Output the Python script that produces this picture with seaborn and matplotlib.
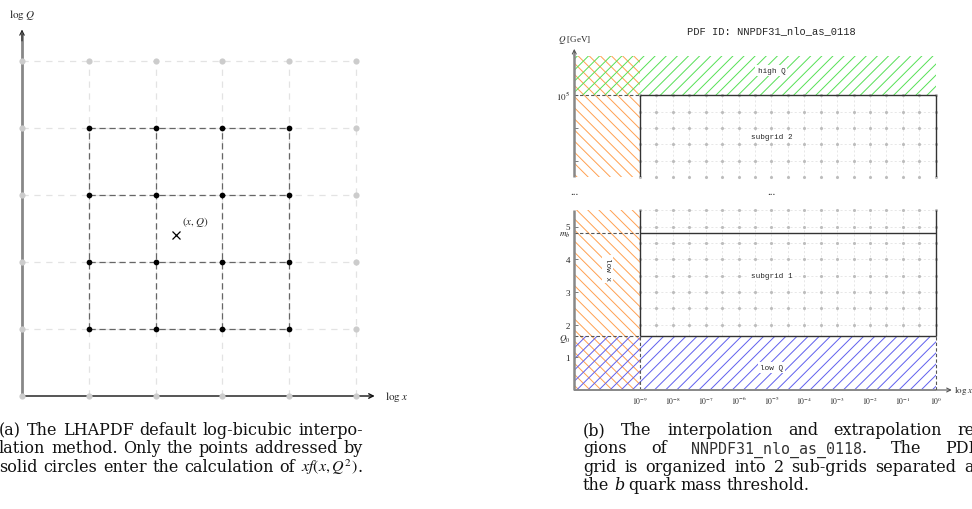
import numpy as np
import pandas as pd
import matplotlib
matplotlib.use("Agg")
import matplotlib.pyplot as plt
from matplotlib.patches import Rectangle
import seaborn as sns

# ---------------- data: panel (a) log-bicubic stencil ----------------
grid_x = [0, 1, 2, 3, 4, 5]          # log x knots (grid units)
grid_q = [0, 1, 2, 3, 4, 5]          # log Q knots (grid units)
stencil_x = [1, 2, 3, 4]             # knots entering the interpolation
stencil_q = [1, 2, 3, 4]
query_x, query_q = 2.3, 2.4          # interpolation point (x, Q)

# ---------------- data: panel (b) NNPDF31_nlo_as_0118 grid ----------------
x_decades = [-9, -8, -7, -6, -5, -4, -3, -2, -1, 0]       # log10 x tick positions
x_knots = [-9.0, -8.5, -8.0, -7.5, -7.0, -6.5, -6.0, -5.5, -5.0, -4.5,
           -4.0, -3.5, -3.0, -2.5, -2.0, -1.5, -1.0, -0.5, 0.0]
q_knots_sub1 = [2.0, 2.5, 3.0, 3.5, 4.0, 4.5, 5.0, 5.5]    # GeV
q_knots_sub2_exp = [2.5, 3.0, 3.5, 4.0, 4.5, 5.0]          # log10(Q/GeV)
q_ticks_low = [1, 2, 3, 4, 5]
Q0 = 1.65
mb = 4.8
Qmax = 1e5
x_lowedge = -11.0
x_min, x_max = -9.0, 0.0
q_top_sub1 = 5.5
q_bottom_sub2 = 10 ** 2.5
q_top_highQ = 10 ** 6.2

W, H, DPI = 972, 510, 100
sns.set_theme(style="white")
plt.rcParams["font.family"] = ["Liberation Serif", "DejaVu Serif"]
plt.rcParams["mathtext.fontset"] = "stix"
plt.rcParams["hatch.linewidth"] = 0.7

fig = plt.figure(figsize=(W / DPI, H / DPI), dpi=DPI)
fig.patch.set_facecolor("white")


def add_axes_px(xd, xp, yd, yp, xlim, ylim, ylog=False):
    f = np.log10 if ylog else (lambda v: v)
    sx = (xp[1] - xp[0]) / (xd[1] - xd[0])
    sy = (yp[1] - yp[0]) / (f(yd[1]) - f(yd[0]))
    left = xp[0] + (xlim[0] - xd[0]) * sx
    right = xp[0] + (xlim[1] - xd[0]) * sx
    bottom = yp[0] + (f(ylim[0]) - f(yd[0])) * sy
    top = yp[0] + (f(ylim[1]) - f(yd[0])) * sy
    ax = fig.add_axes([left / W, 1 - bottom / H, (right - left) / W, (bottom - top) / H])
    ax.set_facecolor("none")
    ax.set_xlim(xlim)
    if ylog:
        ax.set_yscale("log")
    ax.set_ylim(ylim)
    for s in ax.spines.values():
        s.set_visible(False)
    return ax


# ======================= panel (a) =======================
axa = add_axes_px((0, 5), (22, 356), (0, 5), (397, 62), (-0.3, 5.8), (-0.2, 5.9))
axa.set_xticks([]); axa.set_yticks([])

light = dict(color="#e3e3e3", lw=0.9, linestyles=(0, (5, 4.5)), zorder=1)
dark = dict(color="#666666", lw=0.9, linestyles=(0, (5, 3)), zorder=2)
axa.hlines(grid_q[1:], grid_x[0], grid_x[-1], **light)
axa.vlines(grid_x[1:], grid_q[0], grid_q[-1], **light)
axa.hlines(stencil_q, stencil_x[0], stencil_x[-1], **dark)
axa.vlines(stencil_x, stencil_q[0], stencil_q[-1], **dark)

axa.plot([0, 0], [0, 5.42], color="#888888", lw=2, solid_capstyle="butt", zorder=3)
axa.annotate("", xy=(0, 5.47), xytext=(0, 5.3),
             arrowprops=dict(arrowstyle="->", color="#222222", lw=0.8, shrinkA=0, shrinkB=0,
                             mutation_scale=8), zorder=4)
axa.annotate("", xy=(5.28, 0), xytext=(0, 0),
             arrowprops=dict(arrowstyle="->", color="#111111", lw=1.0, shrinkA=0, shrinkB=0,
                             mutation_scale=8), zorder=3)

pts = pd.DataFrame([(x, q) for x in grid_x for q in grid_q], columns=["x", "q"])
pts["used"] = pts["x"].isin(stencil_x) & pts["q"].isin(stencil_q)
sns.scatterplot(data=pts[~pts["used"]], x="x", y="q", color="#cccccc", s=20,
                linewidth=0, ax=axa, zorder=5, clip_on=False)
sns.scatterplot(data=pts[pts["used"]], x="x", y="q", color="black", s=17,
                linewidth=0, ax=axa, zorder=6, clip_on=False)
axa.plot([query_x], [query_q], marker="x", color="black", ms=6, mew=0.9, ls="none", zorder=7)
axa.text(query_x + 0.1, query_q + 0.1, r"$(x,Q)$", fontsize=8, ha="left", va="bottom")
axa.text(0, 5.7, r"$\log\,Q$", fontsize=8, ha="center", va="center")
axa.text(5.43, 0, r"$\log\,x$", fontsize=8, ha="left", va="center")
axa.set_xlabel(""); axa.set_ylabel("")

# ======================= panel (b) =======================
orange, green, blue = "#ffa050", "#55e055", "#5f5fee"
grey_dash = dict(color="#e3e3e3", lw=0.6, linestyles=(0, (2.5, 2.5)), zorder=1)
box = dict(color="#333333", lw=1.0, zorder=4)
thr = dict(color="#555555", lw=0.8, linestyles=(0, (3, 2)), zorder=4)

# ---- lower part: subgrid 1, low Q ----
axl = add_axes_px((-9, 0), (640, 935.7), (0, 5), (391, 227.5), (x_lowedge, 0.9), (0, 5.5))
axl.hlines(q_knots_sub1, x_min, x_max, **grey_dash)
axl.vlines(x_knots, Q0, q_top_sub1, **grey_dash)
d1 = pd.DataFrame([(x, q) for x in x_knots for q in q_knots_sub1], columns=["lx", "Q"])
sns.scatterplot(data=d1, x="lx", y="Q", color="#bdbdbd", s=5, linewidth=0, ax=axl, zorder=2,
                clip_on=False)
axl.add_patch(Rectangle((x_lowedge, 0), x_min - x_lowedge, q_top_sub1, facecolor="none",
                        edgecolor=orange, lw=0, hatch="\\\\\\", zorder=0))
axl.add_patch(Rectangle((x_lowedge, 0), x_max - x_lowedge, Q0, facecolor="none",
                        edgecolor=blue, lw=0, hatch="///", zorder=0))
axl.hlines([Q0, mb], x_min, x_max, **box)
axl.vlines([x_min, x_max], Q0, q_top_sub1, **box)
axl.hlines([Q0, mb], x_lowedge, x_min, **thr)
axl.vlines([x_min, x_max], 0, Q0, **thr)
axl.plot([x_lowedge, x_lowedge], [0, q_top_sub1], color="#888888", lw=1.8,
         solid_capstyle="butt", zorder=5, clip_on=False)
axl.plot([x_lowedge, x_max], [0, 0], color="#888888", lw=1.4, solid_capstyle="butt",
         zorder=5, clip_on=False)
axl.annotate("", xy=(0.49, 0), xytext=(x_max, 0),
             arrowprops=dict(arrowstyle="->", color="#555555", lw=0.8, shrinkA=0, shrinkB=0,
                             mutation_scale=7), annotation_clip=False)
axl.text(0.55, 0, r"$\log\,x$", fontsize=6.5, ha="left", va="center")

lab = dict(family=["Liberation Mono", "DejaVu Sans Mono"], fontsize=5.5, ha="center",
           va="center", zorder=6)
wbox = dict(facecolor="white", edgecolor="none", pad=1.5)
axl.text(-5, 3.5, "subgrid 1", bbox=wbox, **lab)
axl.text(-5, 0.7, "low Q", bbox=wbox, **lab)
axl.text(-10, 3.7, "low x", rotation=-90, bbox=wbox, **lab)
axl.text(x_lowedge, 6.08, "...", fontsize=8, ha="center", va="center")
axl.text(-5, 6.08, "...", fontsize=8, ha="center", va="center")

axl.set_xticks(x_decades)
axl.set_xticklabels([f"$10^{{{k}}}$" for k in x_decades])
axl.set_yticks(q_ticks_low + [Q0, mb])
axl.set_yticklabels([str(v) for v in q_ticks_low] + [r"$Q_0$", r"$m_b$"])
axl.tick_params(axis="x", length=0, pad=3, labelsize=5.5, colors="#222222")
axl.tick_params(axis="y", direction="in", length=3, width=0.6, color="#666666", pad=3,
                labelsize=6.5, labelcolor="#222222", left=True)
axl.set_xlabel(""); axl.set_ylabel("")

# ---- upper part: subgrid 2, high Q ----
axu = add_axes_px((-9, 0), (640, 935.7), (1e5, 1e4), (96.3, 129.0), (x_lowedge, 0.9),
                  (q_bottom_sub2, 10 ** 6.45), ylog=True)
q2 = [10 ** e for e in q_knots_sub2_exp]
axu.hlines(q2, x_min, x_max, **grey_dash)
axu.vlines(x_knots, q_bottom_sub2, Qmax, **grey_dash)
d2 = pd.DataFrame([(x, q) for x in x_knots for q in q2], columns=["lx", "Q"])
sns.scatterplot(data=d2, x="lx", y="Q", color="#bdbdbd", s=5, linewidth=0, ax=axu, zorder=2,
                clip_on=False)
axu.add_patch(Rectangle((x_lowedge, q_bottom_sub2), x_min - x_lowedge,
                        q_top_highQ - q_bottom_sub2, facecolor="none", edgecolor=orange, lw=0,
                        hatch="\\\\\\", zorder=0))
axu.add_patch(Rectangle((x_lowedge, Qmax), x_max - x_lowedge, q_top_highQ - Qmax,
                        facecolor="none", edgecolor=green, lw=0, hatch="///", zorder=0))
axu.hlines([Qmax], x_min, x_max, **box)
axu.vlines([x_min, x_max], q_bottom_sub2, Qmax, **box)
axu.hlines([Qmax], x_lowedge, x_min, **thr)
axu.plot([x_lowedge, x_lowedge], [q_bottom_sub2, 10 ** 6.3], color="#888888", lw=1.8,
         solid_capstyle="butt", zorder=5, clip_on=False)
axu.annotate("", xy=(x_lowedge, 10 ** 6.42), xytext=(x_lowedge, 10 ** 6.2),
             arrowprops=dict(arrowstyle="->", color="#555555", lw=0.8, shrinkA=0, shrinkB=0,
                             mutation_scale=7), annotation_clip=False)
axu.text(-5, 10 ** 5.75, "high Q", bbox=wbox, **lab)
axu.text(-5, 10 ** 3.75, "subgrid 2", bbox=wbox, **lab)
axu.text(x_lowedge, 10 ** 6.72, r"$Q$ [GeV]", fontsize=6.5, ha="center", va="center")
axu.text(-5, 10 ** 7.0, "PDF ID: NNPDF31_nlo_as_0118", family=["Liberation Mono"],
         fontsize=7.5, ha="center", va="center")
axu.set_xticks([])
axu.set_yticks([1e3, 1e4, 1e5])
axu.set_yticklabels(["", "", r"$10^5$"])
axu.yaxis.set_minor_locator(matplotlib.ticker.NullLocator())
axu.tick_params(axis="y", direction="in", length=3, width=0.6, color="#666666", pad=3,
                labelsize=6.5, labelcolor="#222222", left=True)
axu.set_xlabel(""); axu.set_ylabel("")

# ======================= captions (justified) =======================
renderer = fig.canvas.get_renderer()
CAP = dict(fontsize=11.5, color="#111111", family=["DejaVu Serif"])
MONO = dict(family=["DejaVu Sans Mono"], fontsize=10.8, color="#333333")


def words(s, kw=None):
    return [[(w, kw or {})] for w in s.split()]


def caption(lines, x0, x1, y0, dy):
    for i, (wl, justify) in enumerate(lines):
        y = 1 - (y0 + i * dy) / H
        placed = []
        for word in wl:
            segs, tot = [], 0.0
            for s, kw in word:
                t = fig.text(0, y, s, ha="left", va="baseline", **{**CAP, **kw})
                w = t.get_window_extent(renderer=renderer).width
                segs.append((t, w)); tot += w
            placed.append((segs, tot))
        total = sum(p[1] for p in placed)
        gap = (x1 - x0 - total) / (len(placed) - 1) if justify else 4.5
        gap = max(gap, 2.5)
        x = x0
        for segs, tot in placed:
            xx = x
            for t, w in segs:
                t.set_x(xx / W); xx += w
            x += tot + gap


caption([
    (words("(a) The LHAPDF default log-bicubic interpo-"), True),
    (words("lation method. Only the points addressed by"), True),
    (words("solid circles enter the calculation of") + [[(r"$xf(x,Q^2)$", {}), (".", {})]], True),
], -1, 363, 435, 18.3)

caption([
    (words("(b) The interpolation and extrapolation re-"), True),
    (words("gions of") + [[("NNPDF31_nlo_as_0118", MONO), (".", {})]] + words("The PDF"), True),
    (words("grid is organized into 2 sub-grids separated at"), True),
    (words("the") + [[("b", {"style": "italic"})]] + words("quark mass threshold."), False),
], 583, 980, 435, 18.3)

fig.savefig("out.png", dpi=DPI, facecolor="white")
